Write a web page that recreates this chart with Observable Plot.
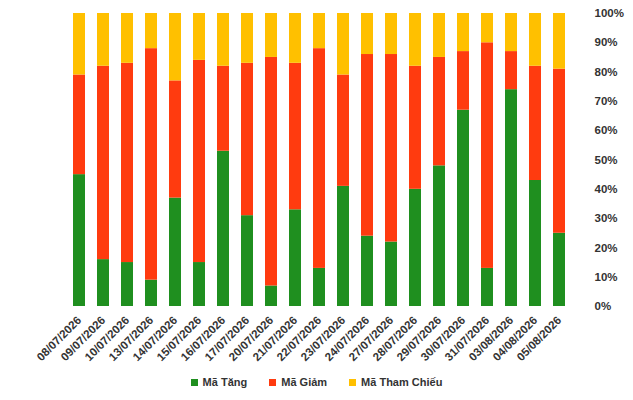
<!DOCTYPE html>
<html><head><meta charset="utf-8">
<script src="https://cdn.jsdelivr.net/npm/d3@7"></script>
<script src="https://cdn.jsdelivr.net/npm/@observablehq/plot@0.6"></script>
<style>
body{margin:0;background:#fff;font-family:"Liberation Sans",Arial,sans-serif;}
#legend{display:flex;justify-content:center;gap:22px;font-size:11px;font-weight:bold;color:#333;margin-top:4px;}
#legend span{display:flex;align-items:center;gap:5px;}
#legend i{display:inline-block;width:7px;height:7px;}
</style></head><body>
<div id="chart"></div>
<div id="legend"></div>
<script>
const dates = ["08/07/2026","09/07/2026","10/07/2026","13/07/2026","14/07/2026","15/07/2026","16/07/2026","17/07/2026","20/07/2026","21/07/2026","22/07/2026","23/07/2026","24/07/2026","27/07/2026","28/07/2026","29/07/2026","30/07/2026","31/07/2026","03/08/2026","04/08/2026","05/08/2026"];
const tang = [45,16,15,9,37,15,53,31,7,33,13,41,24,22,40,48,67,13,74,43,25];
const giam = [34,66,68,79,40,69,29,52,78,50,75,38,62,64,42,37,20,77,13,39,56];
const thamChieu = [21,18,17,12,23,16,18,17,15,17,12,21,14,14,18,15,13,10,13,18,19];
const series = ["Mã Tăng","Mã Giảm","Mã Tham Chiếu"];
const colors = ["#1f8f1f","#ff3b0f","#ffc000"];
const yTicks = [0,10,20,30,40,50,60,70,80,90,100];

const data = [];
dates.forEach((d,i)=>{
  data.push({date:d, s:series[0], v:tang[i]});
  data.push({date:d, s:series[1], v:giam[i]});
  data.push({date:d, s:series[2], v:thamChieu[i]});
});

const chart = Plot.plot({
  width:633, height:372,
  marginLeft:53, marginRight:48, marginTop:13, marginBottom:66,
  style:{fontFamily:"Liberation Sans, Arial, sans-serif", fontSize:"11.5px", fontWeight:"bold", color:"#333"},
  x:{domain:dates, padding:0.52, label:null, tickRotate:-45, tickSize:0},
  y:{domain:[0,100], label:null, ticks:yTicks, tickFormat:d=>d+"%", tickSize:0},
  color:{domain:series, range:colors},
  marks:[
    Plot.barY(data,{x:"date", y:"v", fill:"s", order:series}),
    Plot.axisY({anchor:"right", ticks:yTicks, tickFormat:d=>d+"%", tickSize:0, label:null}),
    Plot.axisX({tickRotate:-45, tickSize:0, label:null})
  ]
});
document.getElementById("chart").appendChild(chart);
document.getElementById("legend").innerHTML = series.map((s,i)=>`<span><i style="background:${colors[i]}"></i>${s}</span>`).join("");
</script>
</body></html>
